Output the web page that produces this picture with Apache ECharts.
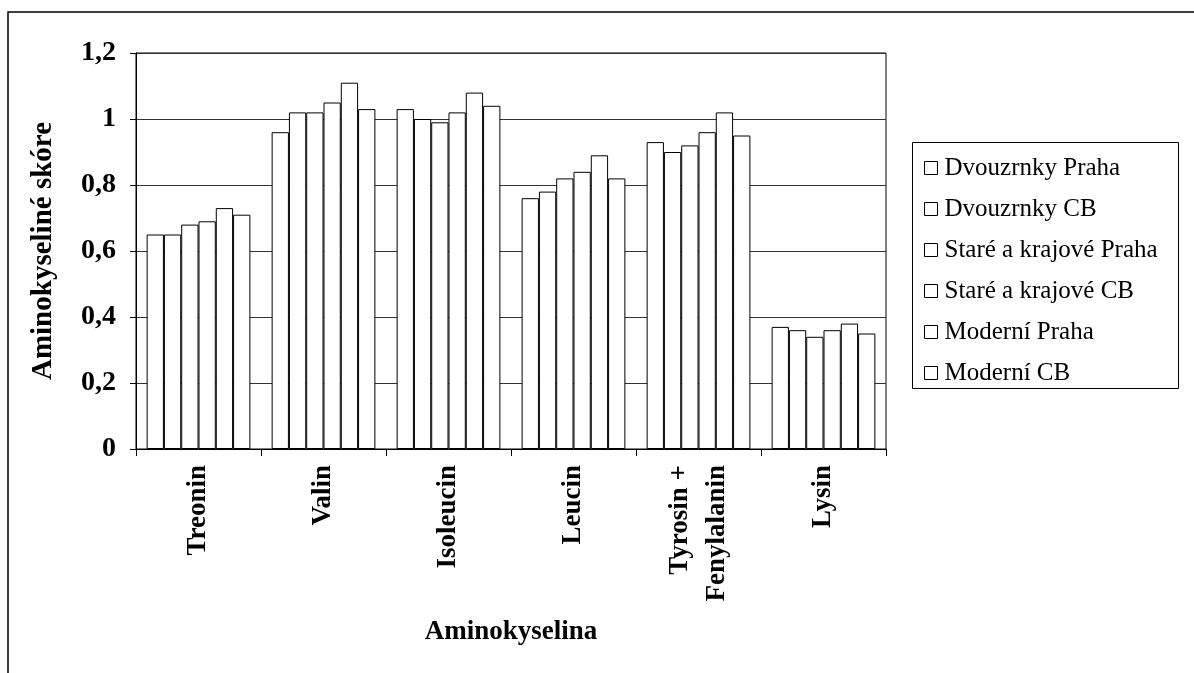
<!DOCTYPE html>
<html>
<head>
<meta charset="utf-8">
<script src="https://cdn.jsdelivr.net/npm/echarts@6/dist/echarts.min.js"></script>
<style>
html,body{margin:0;padding:0;background:#fff;}
#chart{width:1194px;height:673px;}
</style>
</head>
<body>
<div id="chart"></div>
<script>
const categories = ['Treonin', 'Valin', 'Isoleucin', 'Leucin', 'Tyrosin +\nFenylalanin', 'Lysin'];
const seriesNames = ['Dvouzrnky Praha', 'Dvouzrnky CB', 'Staré a krajové Praha', 'Staré a krajové CB', 'Moderní Praha', 'Moderní CB'];
const dvouzrnkyPraha = [0.65, 0.96, 1.03, 0.76, 0.93, 0.37];
const dvouzrnkyCB = [0.65, 1.02, 1.00, 0.78, 0.90, 0.36];
const stareKrajovePraha = [0.68, 1.02, 0.99, 0.82, 0.92, 0.34];
const stareKrajoveCB = [0.69, 1.05, 1.02, 0.84, 0.96, 0.36];
const moderniPraha = [0.73, 1.11, 1.08, 0.89, 1.02, 0.38];
const moderniCB = [0.71, 1.03, 1.04, 0.82, 0.95, 0.35];
const yTicks = [0, 0.2, 0.4, 0.6, 0.8, 1, 1.2];

const seriesData = [dvouzrnkyPraha, dvouzrnkyCB, stareKrajovePraha, stareKrajoveCB, moderniPraha, moderniCB];
const FONT = '"Liberation Serif", "Times New Roman", serif';

const chart = echarts.init(document.getElementById('chart'), null, {renderer: 'canvas'});
chart.setOption({
  animation: false,
  backgroundColor: '#fff',
  grid: {left: 136, top: 53, right: 308, bottom: 224, show: true, borderColor: '#000', borderWidth: 1, containLabel: false},
  legend: {
    orient: 'vertical',
    left: 919,
    top: 150,
    itemWidth: 13,
    itemHeight: 13,
    itemGap: 15,
    icon: 'rect',
    itemStyle: {color: '#fff', borderColor: '#000', borderWidth: 1},
    textStyle: {fontFamily: FONT, fontSize: 25, color: '#000', lineHeight: 26, padding: [0,0,0,2]},
    data: seriesNames
  },
  xAxis: {
    type: 'category',
    data: categories,
    boundaryGap: true,
    name: 'Aminokyselina',
    nameLocation: 'middle',
    nameGap: 170,
    nameTextStyle: {fontFamily: FONT, fontSize: 27, fontWeight: 'bold', color: '#000'},
    axisLine: {show: true, lineStyle: {color: '#000', width: 1}},
    axisTick: {show: true, length: 7, lineStyle: {color: '#000'}, alignWithLabel: false},
    axisLabel: {rotate: 90, margin: 16, fontFamily: FONT, fontSize: 27, fontWeight: 'bold', color: '#000', lineHeight: 37, interval: 0},
    splitLine: {show: false}
  },
  yAxis: {
    type: 'value',
    min: 0,
    max: 1.2,
    interval: 0.2,
    name: 'Aminokyseliné skóre',
    nameLocation: 'middle',
    nameGap: 78,
    nameRotate: 90,
    nameTextStyle: {fontFamily: FONT, fontSize: 29, fontWeight: 'bold', color: '#000'},
    axisLine: {show: true, lineStyle: {color: '#000', width: 1}},
    axisTick: {show: true, length: 6, lineStyle: {color: '#000'}},
    axisLabel: {margin: 20, fontFamily: FONT, fontSize: 28, fontWeight: 'bold', color: '#000',
      formatter: v => {
        const t = yTicks.find(x => Math.abs(x - v) < 1e-9);
        return String(t !== undefined ? t : v).replace('.', ',');
      }},
    splitLine: {show: true, lineStyle: {color: '#333', width: 1}}
  },
  graphic: [
    {type: 'rect', shape: {x: 8, y: 12, width: 1200, height: 700}, style: {fill: 'none', stroke: '#000', lineWidth: 1.5}, silent: true, z: -1},
    {type: 'rect', shape: {x: 912.5, y: 142.5, width: 266, height: 246}, style: {fill: 'none', stroke: '#000', lineWidth: 1}, silent: true}
  ],
  series: seriesNames.map((n, i) => ({
    name: n,
    type: 'bar',
    data: seriesData[i],
    barGap: '0%',
    barCategoryGap: '17%',
    itemStyle: {color: '#fff', borderColor: '#000', borderWidth: 1}
  }))
});
</script>
</body>
</html>
